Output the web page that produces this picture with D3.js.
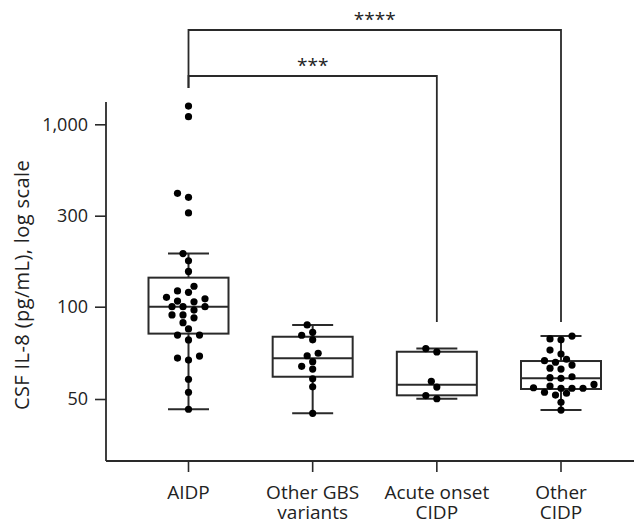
<!DOCTYPE html>
<html lang="en">
<head>
    <meta charset="UTF-8">
    <title>CSF IL-8 by diagnosis</title>
    <style>
        body {
            margin: 0;
            background-color: #FFFFFF;
            font-family: "Open Sans", Arial, sans-serif;
        }
        svg text {
            fill: #222222;
        }
    </style>
</head>
<body>
    <div id="chart"></div>

    <script src="https://d3js.org/d3.v7.min.js"></script>
    <script>
        // Data (pg/mL)
        const categories = ["AIDP", "Other GBS variants", "Acute onset CIDP", "Other CIDP"];
        const labelLines = [["AIDP"], ["Other GBS", "variants"], ["Acute onset", "CIDP"], ["Other", "CIDP"]];

        const aidpValues = [1272, 1105, 403, 382, 311, 190, 174, 153, 128, 121, 119, 112, 107, 106, 110,
            100, 100, 97.5, 100, 94, 94, 92, 88.7, 84.6, 80.8, 80.8, 77.9, 69, 68, 67, 58, 52.6, 46.3];
        const otherGbsValues = [87.2, 82.5, 80.7, 78.0, 70.5, 69.2, 66.2, 63.9, 62.6, 58.2, 54.8, 44.9];
        const acuteCidpValues = [73.0, 71.2, 57.1, 54.7, 51.3, 50.1];
        const otherCidpValues = [80.2, 78.5, 78.0, 72.2, 70.1, 67.4, 66.7, 65.9, 64.5, 62.6, 63.0, 59.1,
            58.4, 58.7, 55.1, 54.4, 55.8, 54.2, 54.2, 54.2, 52.2, 52.6, 51.5, 48.8, 46.0];
        const groupValues = [aidpValues, otherGbsValues, acuteCidpValues, otherCidpValues];

        // Box statistics
        const q1 = [81.7, 59.1, 51.4, 53.9];
        const medians = [100, 67.9, 55.6, 58.4];
        const q3 = [142, 79.8, 71.3, 66.5];
        const whiskerLow = [46.3, 44.9, 50.1, 46.0];
        const whiskerHigh = [190, 87.2, 73.0, 80.2];

        const yTicks = [50, 100, 300, 1000];

        // Significance brackets: [from group, to group, label]
        const comparisons = [[0, 2, "***"], [0, 3, "****"]];

        // Layout
        const width = 634;
        const height = 519;
        const axisX = 106;
        const axisY = 461;
        const axisTop = 102;
        const boxWidth = 80;
        const capWidth = 41;
        const dotR = 3.6;
        const lineColor = "#2a2a2a";

        const svg = d3.select("#chart")
            .append("svg")
            .attr("width", width)
            .attr("height", height);

        const x = d3.scalePoint()
            .domain(categories)
            .range([188.5, 561]);

        // the printed axis spaces its labels evenly, so the log scale is piecewise
        const y = d3.scaleLog()
            .domain(yTicks)
            .range([399, 306.7, 215.7, 124.3]);

        // Y axis
        const yAxis = svg.append("g")
            .attr("transform", `translate(${axisX},0)`)
            .call(d3.axisLeft(y)
                .tickValues(yTicks)
                .tickFormat(d3.format(","))
                .tickSize(11)
                .tickPadding(7));
        yAxis.select(".domain").remove();
        yAxis.selectAll(".tick line").attr("stroke", lineColor).attr("stroke-width", 1.6);
        yAxis.selectAll(".tick text")
            .attr("font-family", "Open Sans")
            .attr("font-size", "18px")
            .attr("fill", "#222");

        svg.append("line")
            .attr("x1", axisX).attr("x2", axisX)
            .attr("y1", axisTop).attr("y2", axisY)
            .attr("stroke", lineColor).attr("stroke-width", 1.8);

        // X axis
        svg.append("line")
            .attr("x1", axisX).attr("x2", width)
            .attr("y1", axisY).attr("y2", axisY)
            .attr("stroke", lineColor).attr("stroke-width", 1.8);

        const xTicks = svg.append("g")
            .selectAll("g")
            .data(categories)
            .join("g")
            .attr("transform", d => `translate(${x(d)},${axisY})`);
        xTicks.append("line")
            .attr("y2", 11)
            .attr("stroke", lineColor)
            .attr("stroke-width", 1.6);
        xTicks.append("text")
            .attr("text-anchor", "middle")
            .attr("font-size", "19px")
            .attr("font-family", "Open Sans")
            .selectAll("tspan")
            .data((d, i) => labelLines[i])
            .join("tspan")
            .attr("x", 0)
            .attr("y", (d, i) => 38 + i * 20)
            .text(d => d);

        // Y title
        svg.append("text")
            .attr("transform", "translate(29,285) rotate(-90)")
            .attr("text-anchor", "middle")
            .attr("font-size", "20px")
            .attr("letter-spacing", "0.4px")
            .attr("font-family", "Open Sans")
            .text("CSF IL-8 (pg/mL), log scale");

        // Boxes and whiskers
        const boxes = svg.append("g")
            .selectAll("g")
            .data(categories)
            .join("g");

        boxes.append("line")
            .attr("x1", d => x(d)).attr("x2", d => x(d))
            .attr("y1", (d, i) => y(whiskerHigh[i]))
            .attr("y2", (d, i) => y(whiskerLow[i]))
            .attr("stroke", lineColor).attr("stroke-width", 2);

        boxes.append("rect")
            .attr("x", d => x(d) - boxWidth / 2)
            .attr("width", boxWidth)
            .attr("y", (d, i) => y(q3[i]))
            .attr("height", (d, i) => y(q1[i]) - y(q3[i]))
            .attr("fill", "#FFFFFF")
            .attr("stroke", lineColor)
            .attr("stroke-width", 2);

        boxes.append("line")
            .attr("x1", d => x(d) - boxWidth / 2).attr("x2", d => x(d) + boxWidth / 2)
            .attr("y1", (d, i) => y(medians[i])).attr("y2", (d, i) => y(medians[i]))
            .attr("stroke", lineColor).attr("stroke-width", 2);

        [whiskerLow, whiskerHigh].forEach(w => {
            boxes.append("line")
                .attr("x1", d => x(d) - capWidth / 2).attr("x2", d => x(d) + capWidth / 2)
                .attr("y1", (d, i) => y(w[i])).attr("y2", (d, i) => y(w[i]))
                .attr("stroke", lineColor).attr("stroke-width", 2);
        });

        // Simple beeswarm: stack points sideways until they stop overlapping
        function swarm(values, cx) {
            const step = 5.5;
            const minDist = 7.4;
            const placed = [];
            values.slice().sort((a, b) => a - b).forEach(v => {
                const py = y(v);
                for (let k = 0; k < 20; k++) {
                    const offsets = k === 0 ? [0] : [-k * step, k * step];
                    const ok = offsets.find(o =>
                        placed.every(p => Math.hypot(p.x - (cx + o), p.y - py) >= minDist));
                    if (ok !== undefined) {
                        placed.push({ x: cx + ok, y: py });
                        break;
                    }
                }
            });
            return placed;
        }

        categories.forEach((c, i) => {
            svg.append("g")
                .selectAll("circle")
                .data(swarm(groupValues[i], x(c)))
                .join("circle")
                .attr("cx", d => d.x)
                .attr("cy", d => d.y)
                .attr("r", dotR)
                .attr("fill", "#000000");
        });

        // Significance brackets
        const bracketLevels = [76, 30];
        const dropFrom = 88;
        const dropTo = 322;
        comparisons.forEach((c, i) => {
            const x1 = x(categories[c[0]]);
            const x2 = x(categories[c[1]]);
            const by = bracketLevels[i];
            svg.append("path")
                .attr("d", `M${x1},${dropFrom}V${by}H${x2}V${dropTo}`)
                .attr("fill", "none")
                .attr("stroke", lineColor)
                .attr("stroke-width", 1.8);
            svg.append("text")
                .attr("x", (x1 + x2) / 2)
                .attr("y", by - 4)
                .attr("text-anchor", "middle")
                .attr("font-size", "19px")
                .attr("font-family", "Open Sans")
                .text(c[2]);
        });
    </script>
</body>
</html>
